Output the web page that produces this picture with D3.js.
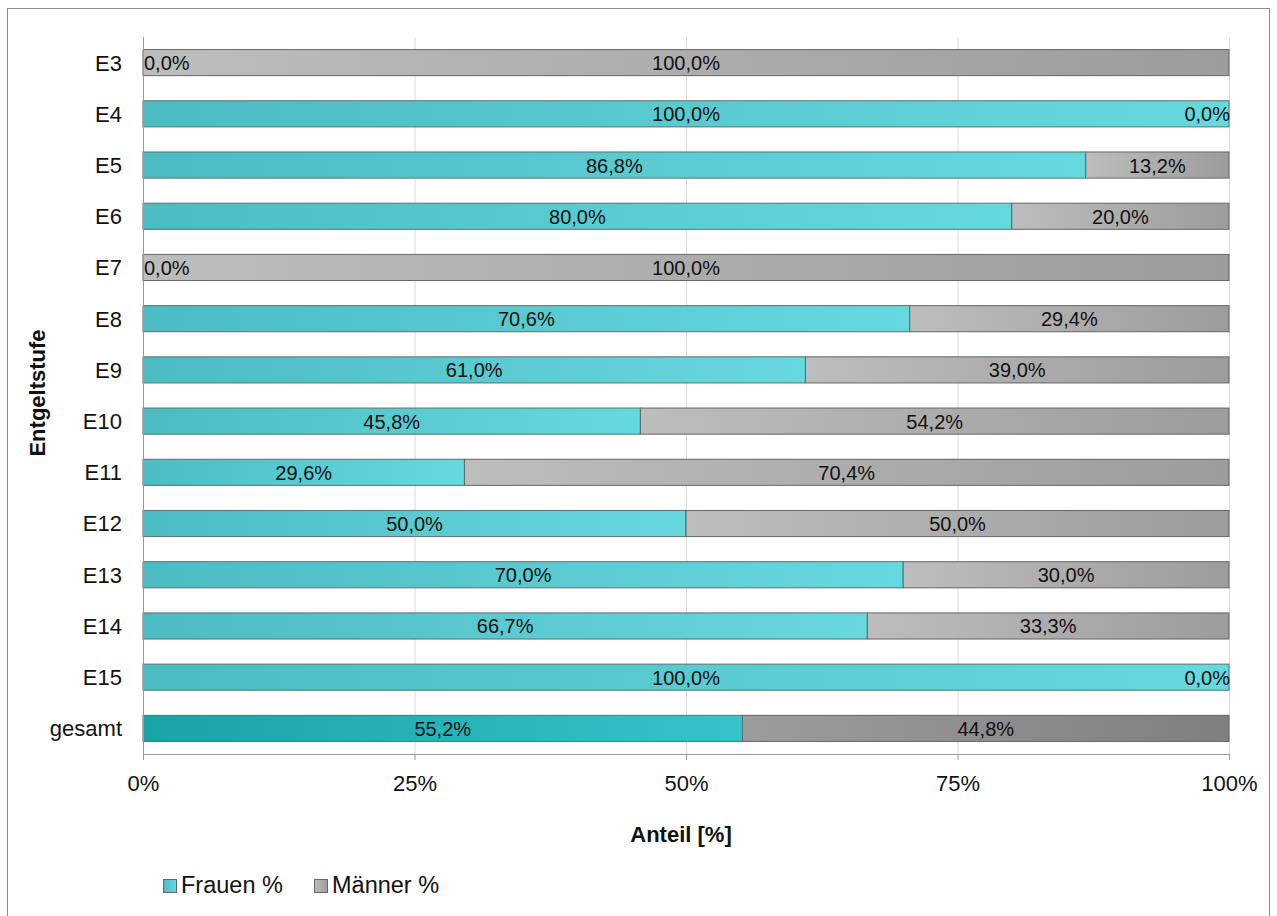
<!DOCTYPE html>
<html><head><meta charset="utf-8">
<script src="https://cdn.jsdelivr.net/npm/d3@7"></script>
<style>body{margin:0;background:#fff}svg{display:block;font-family:"Liberation Sans",Arial,sans-serif}</style>
</head><body>
<svg id="c" width="1277" height="916"></svg>
<script>
const categories = ["E3","E4","E5","E6","E7","E8","E9","E10","E11","E12","E13","E14","E15","gesamt"];
const frauen = [0.0,100.0,86.8,80.0,0.0,70.6,61.0,45.8,29.6,50.0,70.0,66.7,100.0,55.2];
const maenner = [100.0,0.0,13.2,20.0,100.0,29.4,39.0,54.2,70.4,50.0,30.0,33.3,0.0,44.8];
const xTicks = [0,25,50,75,100];
const seriesNames = ["Frauen %","Männer %"];

const FONT = "Liberation Sans, Arial, sans-serif";
const svg = d3.select("#c");
const defs = svg.append("defs");
function grad(id, c1, c2){
  const g = defs.append("linearGradient").attr("id",id).attr("x1","0").attr("x2","1").attr("y1","0").attr("y2","0");
  g.append("stop").attr("offset","0").attr("stop-color",c1);
  g.append("stop").attr("offset","1").attr("stop-color",c2);
}
grad("gF","#4bbcc2","#66d9de");
grad("gM","#bdbdbd","#9c9c9c");
grad("gFT","#1aa2a7","#36c3c9");
grad("gMT","#9c9c9c","#7f7f7f");

svg.append("rect").attr("x",7.5).attr("y",8.5).attr("width",1262).attr("height",920).attr("fill","none").attr("stroke","#8c8c8c").attr("stroke-width",1);

const x = d3.scaleLinear().domain([0,100]).range([143,1229]);
const y = d3.scaleBand().domain(categories).range([37,754]).paddingInner(0.49).paddingOuter(0.245);

// grid
svg.append("g").selectAll("line").data(xTicks.slice(1)).join("line")
  .attr("x1",d=>x(d)+0.5).attr("x2",d=>x(d)+0.5).attr("y1",37).attr("y2",754)
  .attr("stroke","#dcdcdc").attr("stroke-width",1);

// bars
const rows = categories.map((c,i)=>({c, f:frauen[i], m:maenner[i], total:c==="gesamt"}));
const g = svg.append("g");
const fmt = v=>v.toFixed(1).replace(".",",")+"%";
rows.forEach(r=>{
  const y0 = y(r.c), h = y.bandwidth();
  if(r.f>0) g.append("rect").attr("x",x(0)).attr("y",y0).attr("width",x(r.f)-x(0)).attr("height",h)
    .attr("fill",r.total?"url(#gFT)":"url(#gF)").attr("stroke","#5f6f70").attr("stroke-width",1);
  if(r.m>0) g.append("rect").attr("x",x(r.f)).attr("y",y0).attr("width",x(r.f+r.m)-x(r.f)).attr("height",h)
    .attr("fill",r.total?"url(#gMT)":"url(#gM)").attr("stroke","#666").attr("stroke-width",1);
  const cy = y0+h/2+7.5;
  let fx = (x(0)+x(r.f))/2, fa="middle";
  if(r.f===0){fx=x(0)+1; fa="start";}
  g.append("text").attr("x",fx).attr("y",cy).attr("text-anchor",fa).attr("font-size",20).attr("fill","#111").text(fmt(r.f));
  let mx = (x(r.f)+x(100))/2, ma="middle";
  if(r.m===0){mx=x(100)+1; ma="end";}
  g.append("text").attr("x",mx).attr("y",cy).attr("text-anchor",ma).attr("font-size",20).attr("fill","#111").text(fmt(r.m));
});

// axes
const xAxis = d3.axisBottom(x).tickValues(xTicks).tickFormat(d=>d+"%").tickSize(6).tickSizeOuter(0);
const xa = svg.append("g").attr("transform","translate(0,754)").call(xAxis);
xa.attr("font-size",null).attr("font-family",null);
xa.select(".domain").attr("stroke","#999");
xa.selectAll(".tick line").attr("stroke","#999");
xa.selectAll(".tick text").attr("font-size",22).attr("fill","#111").attr("y",37).attr("dy",null).attr("font-family",FONT);

const yAxis = d3.axisLeft(y).tickSize(0).tickPadding(21);
const ya = svg.append("g").attr("transform","translate(143,0)").call(yAxis);
ya.attr("font-size",null).attr("font-family",null);
ya.select(".domain").attr("stroke","#999").attr("d","M0.5,37V760");
ya.selectAll(".tick text").attr("font-size",22).attr("fill","#111").attr("dy","0.36em").attr("font-family",FONT);

svg.append("text").attr("x",681).attr("y",842).attr("text-anchor","middle").attr("font-weight","bold").attr("font-size",22).attr("fill","#111").text("Anteil [%]");
svg.append("text").attr("transform","translate(45,393) rotate(-90)").attr("text-anchor","middle").attr("font-weight","bold").attr("font-size",22).attr("fill","#111").text("Entgeltstufe");

// legend
const leg = svg.append("g");
const legX = [163,314];
seriesNames.forEach((n,i)=>{
  leg.append("rect").attr("x",legX[i]+0.5).attr("y",879.5).attr("width",13).attr("height",13)
    .attr("fill",i===0?"url(#gF)":"url(#gM)").attr("stroke","#666");
  leg.append("text").attr("x",legX[i]+18).attr("y",893).attr("font-size",23.5).attr("fill","#111").text(n);
});
</script>
</body></html>
